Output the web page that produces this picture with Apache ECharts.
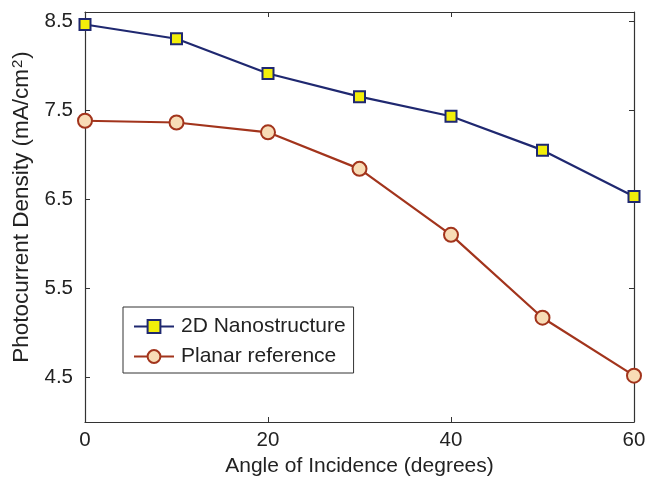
<!DOCTYPE html>
<html>
<head>
<meta charset="utf-8">
<script src="https://cdn.jsdelivr.net/npm/echarts@6/dist/echarts.min.js"></script>
<style>
html, body { margin: 0; padding: 0; background: #fff; }
#chart { width: 647px; height: 479px; }
</style>
</head>
<body>
<div id="chart"></div>
<script>
// Angle of incidence (degrees)
const angles = [0, 10, 20, 30, 40, 50, 60];
// Photocurrent density (mA/cm^2)
const nanostructure = [8.46, 8.30, 7.91, 7.65, 7.43, 7.05, 6.53];
const planar = [7.38, 7.36, 7.25, 6.84, 6.10, 5.17, 4.52];
const yTicks = [4.5, 5.5, 6.5, 7.5, 8.5];
const xTicks = [0, 20, 40, 60];

const font = 'Liberation Sans, Arial, Helvetica, sans-serif';
const axisColor = '#333';
const textColor = '#222';

const chart = echarts.init(document.getElementById('chart'));

function pairs(xs, ys) { return xs.map((x, i) => [x, ys[i]]); }

const xBase = {
  type: 'value', min: 0, max: 60, interval: 20,
  axisLine: { show: true, onZero: false, lineStyle: { color: axisColor, width: 1.2 } },
  axisTick: { show: true, inside: true, length: 5, customValues: xTicks, lineStyle: { color: axisColor } },
  splitLine: { show: false }
};
const yBase = {
  type: 'value', min: 4.0, max: 8.6,
  axisLine: { show: true, onZero: false, lineStyle: { color: axisColor, width: 1.2 } },
  axisTick: { show: true, inside: true, length: 5, customValues: yTicks, lineStyle: { color: axisColor } },
  splitLine: { show: false }
};

chart.setOption({
  animation: false,
  backgroundColor: '#fff',
  grid: { left: 85, right: 13, top: 12, bottom: 57, outerBoundsMode: 'none', containLabel: false },
  xAxis: [
    Object.assign({}, xBase, {
      position: 'bottom',
      name: 'Angle of Incidence (degrees)',
      nameLocation: 'middle', nameGap: 34,
      nameTextStyle: { fontFamily: font, fontSize: 21, color: textColor },
      axisLabel: { fontFamily: font, fontSize: 20.5, color: textColor, margin: 8,
        customValues: xTicks }
    }),
    Object.assign({}, xBase, { position: 'top', axisLabel: { show: false } })
  ],
  yAxis: [
    Object.assign({}, yBase, {
      position: 'left',
      name: 'Photocurrent Density (mA/cm{sup|2})',
      nameLocation: 'middle', nameGap: 51,
      nameTextStyle: {
        fontFamily: font, fontSize: 22.5, color: textColor,
        padding: [0, 0, 0, 20],
        rich: { sup: { fontFamily: font, fontSize: 15, color: textColor, verticalAlign: 'top', padding: [0, 1, 9, 1] } }
      },
      axisLabel: { fontFamily: font, fontSize: 20.5, color: textColor, margin: 12,
        customValues: yTicks, formatter: v => v.toFixed(1) }
    }),
    Object.assign({}, yBase, { position: 'right', axisLabel: { show: false } })
  ],
  legend: {
    orient: 'vertical',
    left: 123, top: 307,
    padding: [9, 8, 6, 10],
    itemGap: 9,
    itemWidth: 40, itemHeight: 16,
    borderColor: '#333', borderWidth: 1,
    backgroundColor: '#fff',
    textStyle: { fontFamily: font, fontSize: 21, color: textColor, padding: [0, 0, 0, 2] },
    data: ['2D Nanostructure', 'Planar reference']
  },
  series: [
    {
      name: '2D Nanostructure', type: 'line',
      data: pairs(angles, nanostructure),
      symbol: 'rect', symbolSize: 11,
      lineStyle: { color: '#1f2870', width: 2.2 },
      itemStyle: { color: '#f2ee0a', borderColor: '#1f2870', borderWidth: 2 }
    },
    {
      name: 'Planar reference', type: 'line',
      data: pairs(angles, planar),
      symbol: 'circle', symbolSize: 14,
      lineStyle: { color: '#a2341c', width: 2.2 },
      itemStyle: { color: '#f8dcb6', borderColor: '#a2341c', borderWidth: 2 }
    }
  ]
});
</script>
</body>
</html>
